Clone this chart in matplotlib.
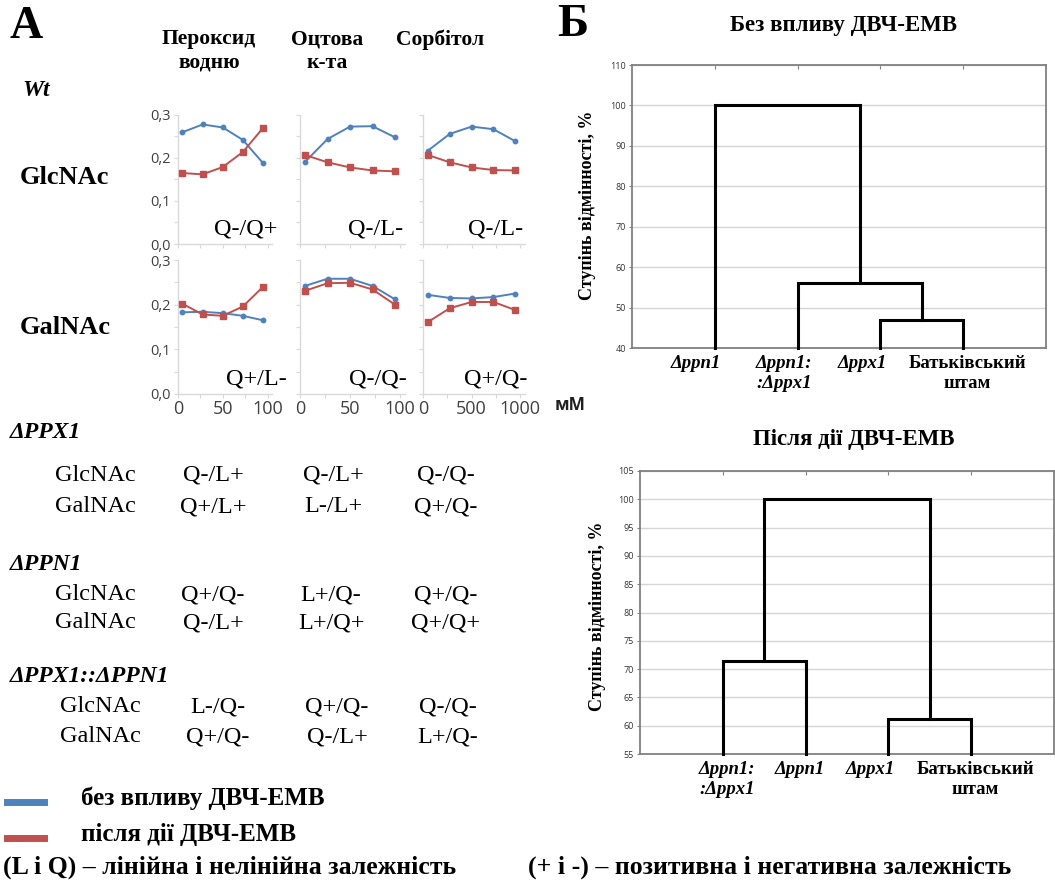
import matplotlib
matplotlib.use("Agg")
import matplotlib.pyplot as plt
from matplotlib.lines import Line2D
from matplotlib.ticker import FuncFormatter, MultipleLocator, FixedLocator

# ---------------- DATA ----------------
conc_mm = [5, 27.5, 50, 72.5, 95]          # H2O2 and acetic acid, mM
conc_sorbitol = [50, 275, 500, 725, 950]   # sorbitol, mM
stress_names = ["Пероксид\nводню", "Оцтова\nк-та", "Сорбітол"]
substrates = ["GlcNAc", "GalNAc"]

glc_ctrl_h2o2 = [0.260, 0.278, 0.271, 0.242, 0.188]
glc_emr_h2o2 = [0.165, 0.162, 0.179, 0.214, 0.270]
glc_ctrl_acet = [0.191, 0.244, 0.273, 0.274, 0.248]
glc_emr_acet = [0.207, 0.190, 0.178, 0.171, 0.169]
glc_ctrl_sorb = [0.217, 0.256, 0.273, 0.267, 0.239]
glc_emr_sorb = [0.207, 0.190, 0.178, 0.172, 0.171]

gal_ctrl_h2o2 = [0.183, 0.184, 0.181, 0.175, 0.165]
gal_emr_h2o2 = [0.202, 0.178, 0.175, 0.196, 0.240]
gal_ctrl_acet = [0.242, 0.258, 0.258, 0.242, 0.212]
gal_emr_acet = [0.231, 0.248, 0.249, 0.234, 0.200]
gal_ctrl_sorb = [0.222, 0.215, 0.214, 0.217, 0.225]
gal_emr_sorb = [0.161, 0.192, 0.206, 0.206, 0.188]

wt_codes = [["Q-/Q+", "Q-/L-", "Q-/L-"],
            ["Q+/L-", "Q-/Q-", "Q+/Q-"]]

mutant_names = ["ΔPPX1", "ΔPPN1", "ΔPPX1::ΔPPN1"]
ppx1_codes = [["Q-/L+", "Q-/L+", "Q-/Q-"], ["Q+/L+", "L-/L+", "Q+/Q-"]]
ppn1_codes = [["Q+/Q-", "L+/Q-", "Q+/Q-"], ["Q-/L+", "L+/Q+", "Q+/Q+"]]
double_codes = [["L-/Q-", "Q+/Q-", "Q-/Q-"], ["Q+/Q-", "Q-/L+", "L+/Q-"]]

dendro_title_before = "Без впливу ДВЧ-ЕМВ"
dendro_leaves_before = ["Δppn1", "Δppn1:\n:Δppx1", "Δppx1", "Батьківський\nштам"]
dendro_links_before = [(2, 3, 47.0), (1, 4, 56.2), (0, 5, 100.0)]
dendro_yticks_before = [40, 50, 60, 70, 80, 90, 100, 110]

dendro_title_after = "Після дії ДВЧ-ЕМВ"
dendro_leaves_after = ["Δppn1:\n:Δppx1", "Δppn1", "Δppx1", "Батьківський\nштам"]
dendro_links_after = [(2, 3, 61.1), (0, 1, 71.4), (4, 5, 100.0)]
dendro_yticks_after = [55, 60, 65, 70, 75, 80, 85, 90, 95, 100, 105]

ylabel_dendro = "Ступінь відмінності, %"
legend_ctrl = "без впливу ДВЧ-ЕМВ"
legend_emr = "після дії ДВЧ-ЕМВ"
note_left = "(L і Q) – лінійна і нелінійна залежність"
note_right = "(+ і -) – позитивна і негативна залежність"

# ---------------- STYLE / LAYOUT ----------------
W, H = 1055, 885
SERIF = ["Liberation Serif", "DejaVu Serif"]
SANS = ["Open Sans", "DejaVu Sans"]
BLUE = "#4F81BD"
RED = "#C0504D"
AXC = "#d9d9d9"
TXC = "#404040"

fig = plt.figure(figsize=(W / 100, H / 100), dpi=100)
fig.patch.set_facecolor("white")


def px_axes(l, t, r, b):
    return fig.add_axes([l / W, 1 - b / H, (r - l) / W, (b - t) / H])


def ftext(x, y, s, **kw):
    return fig.text(x / W, 1 - y / H, s, **kw)


comma = FuncFormatter(lambda v, _: f"{v:.1f}".replace(".", ","))

rows_px = [(115, 244), (260, 394)]
cols_px = [(178, 272), (300, 405), (423, 525)]
code_pos = [[(277, 229), (403, 229), (523, 229)],
            [(287, 379), (407, 379), (527, 379)]]

series = [
    [(conc_mm, glc_ctrl_h2o2, glc_emr_h2o2), (conc_mm, glc_ctrl_acet, glc_emr_acet),
     (conc_sorbitol, glc_ctrl_sorb, glc_emr_sorb)],
    [(conc_mm, gal_ctrl_h2o2, gal_emr_h2o2), (conc_mm, gal_ctrl_acet, gal_emr_acet),
     (conc_sorbitol, gal_ctrl_sorb, gal_emr_sorb)],
]

for r, (t, b) in enumerate(rows_px):
    for c, (l, rr) in enumerate(cols_px):
        ax = px_axes(l, t, rr, b)
        x, yc, ye = series[r][c]
        ax.plot(x, yc, color=BLUE, lw=1.4, marker="o", ms=3.2, mec=BLUE, mfc=BLUE, zorder=3)
        ax.plot(x, ye, color=RED, lw=1.4, marker="s", ms=4.2, mec=RED, mfc=RED, zorder=3)
        xmax = 1050 if c == 2 else 105
        ax.set_xlim(0, xmax)
        ax.set_ylim(0, 0.3)
        for s in ["top", "right"]:
            ax.spines[s].set_visible(False)
        for s in ["left", "bottom"]:
            ax.spines[s].set_color(AXC)
            ax.spines[s].set_linewidth(1.0)
        ax.yaxis.set_major_locator(MultipleLocator(0.1))
        ax.yaxis.set_minor_locator(MultipleLocator(0.05))
        step = 500 if c == 2 else 50
        ax.xaxis.set_major_locator(FixedLocator([0, step, 2 * step]))
        ax.xaxis.set_minor_locator(MultipleLocator(step / 2))
        ax.tick_params(which="both", color=AXC, length=3, width=0.8, labelcolor=TXC)
        ax.yaxis.set_major_formatter(comma)
        if c == 0:
            ax.tick_params(axis="y", labelsize=10.5, pad=2)
            for lab in ax.get_yticklabels():
                lab.set_fontfamily(SANS)
        else:
            ax.tick_params(axis="y", labelleft=False)
        if r == 1:
            ax.tick_params(axis="x", labelsize=13, pad=1)
            for lab in ax.get_xticklabels():
                lab.set_fontfamily(SANS)
        else:
            ax.tick_params(axis="x", labelbottom=False)
        ax.set_facecolor("none")
        cx, cy = code_pos[r][c]
        ftext(cx, cy, wt_codes[r][c], ha="right", va="center", fontsize=17.5, family=SERIF)

ftext(570, 405, "мМ", ha="center", va="center", fontsize=12.5, fontweight="bold", family=SANS, color="#202020")

# headers
header_x = [209, 327, 440]
for name, hx in zip(stress_names, header_x):
    ftext(hx, 29, name, ha="center", va="top", fontsize=15.5, fontweight="bold",
          family=SERIF, linespacing=1.25)
ftext(10, 27, "А", ha="left", va="center", fontsize=33, fontweight="bold", family=SERIF)
ftext(22, 90, "Wt", ha="left", va="center", fontsize=17, fontweight="bold", style="italic", family=SERIF)
row_label_y = [177, 327]
for name, yy in zip(substrates, row_label_y):
    ftext(20, yy, name, ha="left", va="center", fontsize=19, fontweight="bold", family=SERIF)

# mutant tables
sections = [ppx1_codes, ppn1_codes, double_codes]
sec_head_y = [433, 565, 677]
sec_row_y = [(475, 507), (595, 623), (707, 737)]
sec_label_x = [55, 55, 60]
sec_col_x = [(213, 333, 446), (213, 331, 446), (218, 337, 448)]
for k, codes in enumerate(sections):
    ftext(10, sec_head_y[k], mutant_names[k], ha="left", va="center", fontsize=17,
          fontweight="bold", style="italic", family=SERIF)
    for ri, sub in enumerate(substrates):
        yy = sec_row_y[k][ri]
        ftext(sec_label_x[k], yy, sub, ha="left", va="center", fontsize=17.5, family=SERIF)
        for ci in range(3):
            ftext(sec_col_x[k][ci], yy, codes[ri][ci], ha="center", va="center",
                  fontsize=17.5, family=SERIF)

# legend
fig.add_artist(Line2D([7 / W, 44 / W], [1 - 802 / H, 1 - 802 / H], color=BLUE, lw=5))
fig.add_artist(Line2D([7 / W, 44 / W], [1 - 838 / H, 1 - 838 / H], color=RED, lw=5))
ftext(81, 798, legend_ctrl, ha="left", va="center", fontsize=18, fontweight="bold", family=SERIF)
ftext(81, 835, legend_emr, ha="left", va="center", fontsize=18, fontweight="bold", family=SERIF)
ftext(3, 867, note_left, ha="left", va="center", fontsize=18.5, fontweight="bold", family=SERIF)
ftext(528, 867, note_right, ha="left", va="center", fontsize=18.5, fontweight="bold", family=SERIF)


# dendrograms
def draw_dendro(ax, leaves, links, yticks, label_dx):
    ymin, ymax = yticks[0], yticks[-1]
    n = len(leaves)
    xs = {i: i + 1 for i in range(n)}
    hs = {i: ymin for i in range(n)}
    for k, (a, b, h) in enumerate(links):
        ax.plot([xs[a], xs[a], xs[b], xs[b]], [hs[a], h, h, hs[b]], color="black",
                lw=2.2, solid_joinstyle="miter", clip_on=False, zorder=3)
        xs[n + k] = (xs[a] + xs[b]) / 2
        hs[n + k] = h
    ax.set_xlim(0, n + 1)
    ax.set_ylim(ymin, ymax)
    ax.set_yticks(yticks)
    ax.set_xticks(range(1, n + 1))
    ax.tick_params(axis="x", labelbottom=False, direction="in", length=3, top=True,
                   color="#808080")
    ax.tick_params(axis="y", labelsize=6.5, labelcolor="#333333", length=2.5,
                   color="#808080", pad=2)
    for lab in ax.get_yticklabels():
        lab.set_fontfamily(SANS)
    ax.grid(axis="y", color="#d6d6d6", lw=1.0)
    ax.set_axisbelow(True)
    for s in ax.spines.values():
        s.set_color("#808080")
        s.set_linewidth(1.3)
    for i, lab in enumerate(leaves):
        italic = lab.startswith("Δ")
        ax.annotate(lab, xy=(i + 1, 0), xycoords=ax.get_xaxis_transform(),
                    xytext=(label_dx[i], -5), textcoords="offset points",
                    ha="center", va="top", fontsize=13.5, fontweight="bold",
                    style="italic" if italic else "normal", family=SERIF,
                    linespacing=1.2, annotation_clip=False)


ax1 = px_axes(632, 65, 1046, 348)
draw_dendro(ax1, dendro_leaves_before, dendro_links_before, dendro_yticks_before,
            [-14, -10, -13, 3])
ax2 = px_axes(640, 471, 1054, 754)
draw_dendro(ax2, dendro_leaves_after, dendro_links_after, dendro_yticks_after,
            [3, -4, -13, 3])

ftext(844, 26, dendro_title_before, ha="center", va="center", fontsize=16.5,
      fontweight="bold", family=SERIF)
ftext(854, 439, dendro_title_after, ha="center", va="center", fontsize=16.5,
      fontweight="bold", family=SERIF)
ftext(557, 25, "Б", ha="left", va="center", fontsize=34, fontweight="bold", family=SERIF)
ftext(588, 205, ylabel_dendro, ha="center", va="center", rotation=90, fontsize=13,
      fontweight="bold", family=SERIF)
ftext(598, 616, ylabel_dendro, ha="center", va="center", rotation=90, fontsize=13,
      fontweight="bold", family=SERIF)

fig.savefig("out.png", dpi=100, facecolor="white")
